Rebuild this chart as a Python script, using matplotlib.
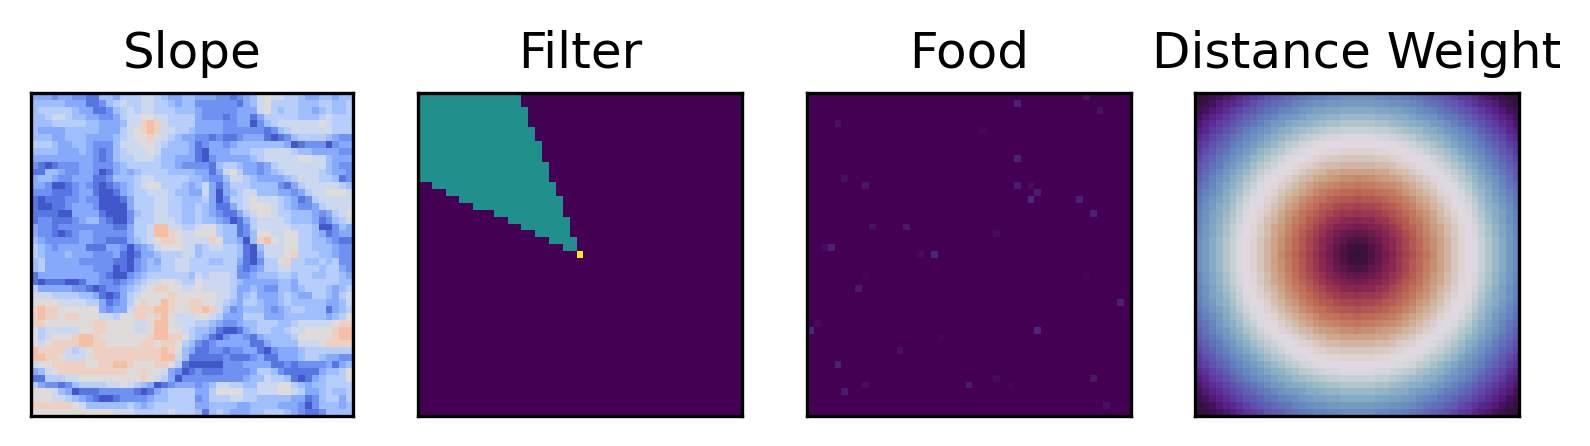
import numpy as np
import matplotlib
matplotlib.use("Agg")
import matplotlib.pyplot as plt

TITLES = ["Slope", "Filter", "Food", "Distance Weight"]
GRID_SIZE = 47
AGENT_CELL = (23, 23)

# Slope: one digit per cell (0 darkest blue ... 9 peach)
SLOPE_LEFT = [
    "333233221144355566543344", "444443331124565566554344", "455555433112456566555444",
    "445665443322356677665555", "444555554433346689865555", "433334444433356789866554",
    "444334443333456778765433", "555433443222466677654443", "444433343212456667644443",
    "333333333212455666544333", "210122233222345555544322", "114432233201343455554444",
    "344322333112444566555554", "332001232101234567755543", "222111233100134556665443",
    "101112232200013555665544", "100112333200003555665544", "111100333310002455665544",
    "122111234421002555666544", "322122222222113556996655", "322101233222223556998766",
    "432222233221113456788766", "543233331113320234677766", "543334333222310133455566",
    "453333322222110234355665", "453333333222010234455665", "133333333321002345555554",
    "101110013322123456677655", "533333221012234567887766", "666555544310135677778777",
    "777766665531235787798778", "898877777732336888998778", "898878877766577887897666",
    "887777777887777667997666", "756666677887777667997765", "756777899877777778998875",
    "767888899887777788788754", "988886567888888888898743", "998876667888888888899641",
    "677888887788998777887510", "346788888888887787763201", "115556677777777787653022",
    "532212455556676543012333", "777643011122222101345555", "777665432100122223445555",
    "888888764444445434555555", "777777777777666555556555",
]
SLOPE_RIGHT = [
    "33322123467665543344344", "22222213467555544455445", "32222233367545544345445",
    "32221233135555544456555", "33332233024566666676555", "33332222221245666666555",
    "22121123331012455554322", "12332344444443012220233", "10333444556666544333322",
    "10233333456666677664333", "22145543323566666664322", "33136753323456666654332",
    "43224665433334566655412", "46313555444421356666654", "36303456644433235667776",
    "45302556766654312566666", "54311356777654322356666", "54321135677655444323567",
    "54432013566665444312456", "67754412566666555400243", "77754412477667755431233",
    "66874430489767755443211", "45665541046667755444322", "45555541036667855544322",
    "55445531025578554454522", "55555521235566555545532", "65666522344455455445543",
    "76666543333344355555544", "76666533432244345554345", "77766534533345433554356",
    "87765435543345444443346", "89864234443234554441345", "77653335553334444443457",
    "55432234455544566666788", "44310013455445667777899", "43102332134444577777899",
    "21233333113444466678888", "11221223310233345555555", "11112111231133345543322",
    "00002223333112122223134", "21112222355421111134457", "22222223446554101345557",
    "23466554466677543445555", "33577775566677653345445", "23555665544444331245535",
    "33444433444433320244434", "41454333445554321124444",
]
SLOPE_BASE = 0.03
SLOPE_STEP = 0.068

# Filter: for each row, first and one-past-last highlighted column
FILTER_LEFT = [0] * 13 + [2, 4, 6, 8, 11, 13, 15, 17, 19, 21]
FILTER_RIGHT = [15, 15, 16, 16, 16, 17, 17, 18, 18, 18, 19, 19, 19,
                20, 20, 21, 21, 21, 22, 22, 22, 23, 23]
FILTER_LEVEL = 0.5

# Food: row, column, value
FOOD_ROWS = [0, 1, 2, 4, 5, 9, 12, 13, 13, 13, 14, 15, 15, 17, 19, 19, 20, 22, 22,
             23, 23, 26, 26, 28, 30, 33, 34, 34, 35, 37, 39, 41, 41, 42, 42, 42, 43, 45]
FOOD_COLS = [40, 30, 42, 4, 25, 30, 5, 8, 30, 32, 33, 32, 39, 41, 9, 14, 27, 2, 3,
             16, 18, 8, 40, 7, 45, 1, 0, 33, 19, 13, 4, 27, 41, 8, 23, 29, 5, 43]
FOOD_VALUES = [.05, .10, .05, .05, .02, .10, .04, .06, .08, .03, .08, .12, .09, .09,
               .05, .07, .03, .03, .10, .03, .11, .012, .015, .07, .10, .03, .11, .11,
               .015, .04, .10, .03, .07, .04, .08, .015, .08, .04]

# Distance Weight: one quadrant in percent-like levels (0..99), row/col = offset from centre
DIST_QUADRANT = [
    [99, 96, 93, 90, 87, 84, 81, 78, 75, 72, 69, 66, 62, 59, 56, 53, 50, 47, 44, 41, 38, 35, 32, 29],
    [96, 95, 92, 89, 86, 83, 80, 77, 74, 71, 68, 65, 62, 59, 56, 53, 50, 47, 44, 41, 38, 35, 32, 29],
    [93, 92, 90, 88, 85, 83, 80, 77, 74, 71, 68, 65, 62, 59, 56, 53, 50, 47, 44, 41, 38, 35, 32, 29],
    [90, 89, 88, 86, 84, 81, 79, 76, 73, 70, 67, 64, 61, 58, 55, 52, 49, 46, 43, 40, 37, 34, 31, 28],
    [87, 86, 85, 84, 82, 80, 77, 74, 72, 69, 66, 63, 61, 58, 55, 52, 49, 46, 43, 40, 37, 34, 31, 28],
    [84, 83, 83, 81, 80, 77, 75, 73, 70, 68, 65, 62, 59, 57, 54, 51, 48, 45, 42, 39, 36, 33, 30, 27],
    [81, 80, 80, 79, 77, 75, 73, 71, 69, 66, 64, 61, 58, 55, 53, 50, 47, 44, 41, 38, 35, 33, 30, 27],
    [78, 77, 77, 76, 74, 73, 71, 69, 67, 64, 62, 59, 57, 54, 51, 49, 46, 43, 40, 37, 35, 32, 29, 26],
    [75, 74, 74, 73, 72, 70, 69, 67, 65, 62, 60, 58, 55, 53, 50, 47, 45, 42, 39, 36, 33, 31, 28, 25],
    [72, 71, 71, 70, 69, 68, 66, 64, 62, 60, 58, 56, 53, 51, 48, 46, 43, 40, 38, 35, 32, 29, 27, 24],
    [69, 68, 68, 67, 66, 65, 64, 62, 60, 58, 56, 54, 51, 49, 47, 44, 42, 39, 36, 34, 31, 28, 25, 23],
    [66, 65, 65, 64, 63, 62, 61, 59, 58, 56, 54, 52, 49, 47, 45, 42, 40, 37, 35, 32, 30, 27, 24, 21],
    [62, 62, 62, 61, 61, 59, 58, 57, 55, 53, 51, 49, 47, 45, 43, 41, 38, 36, 33, 31, 28, 25, 23, 20],
    [59, 59, 59, 58, 58, 57, 55, 54, 53, 51, 49, 47, 45, 43, 41, 39, 36, 34, 31, 29, 26, 24, 21, 19],
    [56, 56, 56, 55, 55, 54, 53, 51, 50, 48, 47, 45, 43, 41, 39, 37, 34, 32, 30, 27, 25, 22, 20, 17],
    [53, 53, 53, 52, 52, 51, 50, 49, 47, 46, 44, 42, 41, 39, 37, 34, 32, 30, 28, 25, 23, 20, 18, 15],
    [50, 50, 50, 49, 49, 48, 47, 46, 45, 43, 42, 40, 38, 36, 34, 32, 30, 28, 26, 23, 21, 19, 16, 14],
    [47, 47, 47, 46, 46, 45, 44, 43, 42, 40, 39, 37, 36, 34, 32, 30, 28, 26, 24, 21, 19, 17, 14, 12],
    [44, 44, 44, 43, 43, 42, 41, 40, 39, 38, 36, 35, 33, 31, 30, 28, 26, 24, 21, 19, 17, 15, 12, 10],
    [41, 41, 41, 40, 40, 39, 38, 37, 36, 35, 34, 32, 31, 29, 27, 25, 23, 21, 19, 17, 15, 13, 11, 8],
    [38, 38, 38, 37, 37, 36, 35, 35, 33, 32, 31, 30, 28, 26, 25, 23, 21, 19, 17, 15, 13, 11, 9, 6],
    [35, 35, 35, 34, 34, 33, 33, 32, 31, 29, 28, 27, 25, 24, 22, 20, 19, 17, 15, 13, 11, 9, 6, 4],
    [32, 32, 32, 31, 31, 30, 30, 29, 28, 27, 25, 24, 23, 21, 20, 18, 16, 14, 12, 11, 9, 6, 4, 2],
    [29, 29, 29, 28, 28, 27, 27, 26, 25, 24, 23, 21, 20, 19, 17, 15, 14, 12, 10, 8, 6, 4, 2, 0],
]
DIST_MAX = 99.0

slope = np.array([[int(c) for c in a + b] for a, b in zip(SLOPE_LEFT, SLOPE_RIGHT)]) * SLOPE_STEP + SLOPE_BASE

filt = np.zeros((GRID_SIZE, GRID_SIZE))
for r, (a, b) in enumerate(zip(FILTER_LEFT, FILTER_RIGHT)):
    filt[r, a:b] = FILTER_LEVEL
filt[AGENT_CELL] = 1.0

food = np.zeros((GRID_SIZE, GRID_SIZE))
food[FOOD_ROWS, FOOD_COLS] = FOOD_VALUES

q = np.array(DIST_QUADRANT) / DIST_MAX
top = np.hstack([q[::-1, ::-1], q[::-1, 1:]])
dist = np.vstack([top, top[-2::-1]])

W, H = 1590, 446
fig = plt.figure(figsize=(W / 300, H / 300), dpi=300)

lefts = [31, 418, 807, 1195]
rights = [353, 742, 1131, 1519]
TOP_PX, BOTTOM_PX = 93, 416

panels = [(slope, "coolwarm"), (filt, "viridis"), (food, "viridis"), (dist, "twilight_shifted")]
for title, (data, cmap), l, r in zip(TITLES, panels, lefts, rights):
    ax = fig.add_axes([l / W, 1 - BOTTOM_PX / H, (r - l) / W, (BOTTOM_PX - TOP_PX) / H])
    ax.imshow(data, cmap=cmap, vmin=0, vmax=1, aspect="auto", interpolation="nearest")
    ax.set_xticks([])
    ax.set_yticks([])
    ax.set_title(title, fontsize=12)

fig.savefig("out.png", dpi=300, facecolor="white")
